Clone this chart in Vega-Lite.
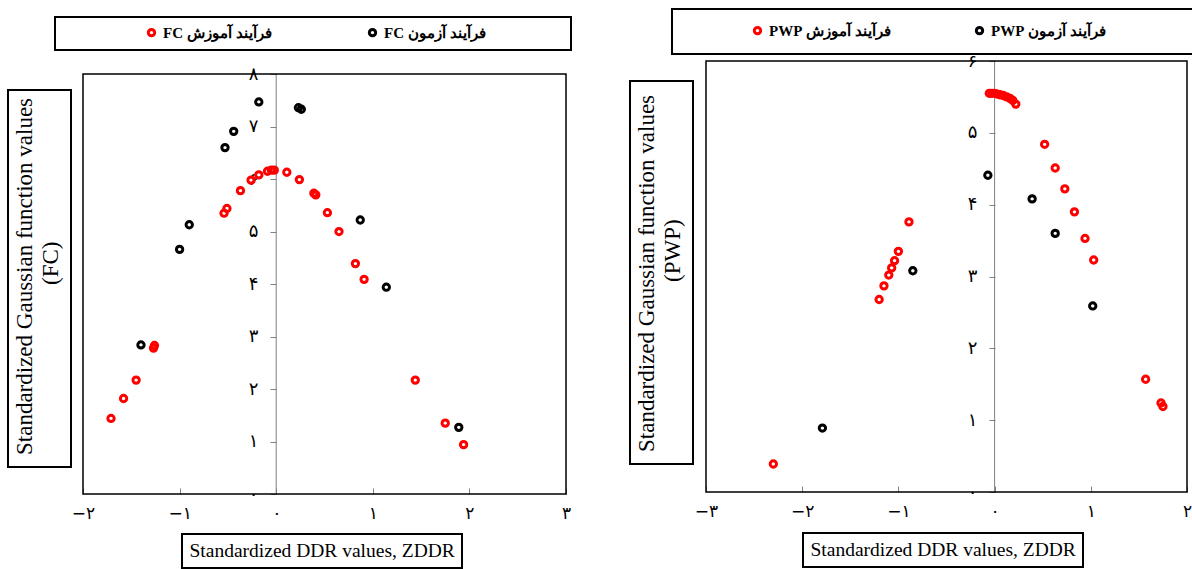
{
  "$schema": "https://vega.github.io/schema/vega-lite/v6.json",
  "padding": {"left": 7, "top": 8, "right": 0, "bottom": 0},
  "background": "white",
  "config": {"view": {"stroke": null}, "font": "Liberation Serif", "legend": {"strokeWidth": 2}},
  "spacing": 57,
  "datasets": {
    "fc": [
      {"z": -1.71, "g": 1.44, "series": "فرآیند آموزش FC"},
      {"z": -1.58, "g": 1.82, "series": "فرآیند آموزش FC"},
      {"z": -1.45, "g": 2.17, "series": "فرآیند آموزش FC"},
      {"z": -1.27, "g": 2.78, "series": "فرآیند آموزش FC"},
      {"z": -1.26, "g": 2.83, "series": "فرآیند آموزش FC"},
      {"z": -0.54, "g": 5.35, "series": "فرآیند آموزش FC"},
      {"z": -0.51, "g": 5.44, "series": "فرآیند آموزش FC"},
      {"z": -0.37, "g": 5.78, "series": "فرآیند آموزش FC"},
      {"z": -0.26, "g": 5.98, "series": "فرآیند آموزش FC"},
      {"z": -0.18, "g": 6.08, "series": "فرآیند آموزش FC"},
      {"z": -0.09, "g": 6.15, "series": "فرآیند آموزش FC"},
      {"z": -0.05, "g": 6.17, "series": "فرآیند آموزش FC"},
      {"z": -0.02, "g": 6.17, "series": "فرآیند آموزش FC"},
      {"z": 0.11, "g": 6.13, "series": "فرآیند آموزش FC"},
      {"z": 0.24, "g": 5.99, "series": "فرآیند آموزش FC"},
      {"z": 0.39, "g": 5.73, "series": "فرآیند آموزش FC"},
      {"z": 0.41, "g": 5.70, "series": "فرآیند آموزش FC"},
      {"z": 0.53, "g": 5.36, "series": "فرآیند آموزش FC"},
      {"z": 0.65, "g": 5.00, "series": "فرآیند آموزش FC"},
      {"z": 0.82, "g": 4.39, "series": "فرآیند آموزش FC"},
      {"z": 0.91, "g": 4.09, "series": "فرآیند آموزش FC"},
      {"z": 1.44, "g": 2.17, "series": "فرآیند آموزش FC"},
      {"z": 1.75, "g": 1.35, "series": "فرآیند آموزش FC"},
      {"z": 1.94, "g": 0.94, "series": "فرآیند آموزش FC"},
      {"z": -1.40, "g": 2.84, "series": "فرآیند آزمون FC"},
      {"z": -1.00, "g": 4.66, "series": "فرآیند آزمون FC"},
      {"z": -0.90, "g": 5.13, "series": "فرآیند آزمون FC"},
      {"z": -0.53, "g": 6.60, "series": "فرآیند آزمون FC"},
      {"z": -0.44, "g": 6.91, "series": "فرآیند آزمون FC"},
      {"z": -0.18, "g": 7.47, "series": "فرآیند آزمون FC"},
      {"z": 0.23, "g": 7.36, "series": "فرآیند آزمون FC"},
      {"z": 0.26, "g": 7.33, "series": "فرآیند آزمون FC"},
      {"z": 0.87, "g": 5.22, "series": "فرآیند آزمون FC"},
      {"z": 1.14, "g": 3.94, "series": "فرآیند آزمون FC"},
      {"z": 1.89, "g": 1.27, "series": "فرآیند آزمون FC"}
    ],
    "pwp": [
      {"z": -2.30, "g": 0.39, "series": "فرآیند آموزش PWP"},
      {"z": -1.20, "g": 2.68, "series": "فرآیند آموزش PWP"},
      {"z": -1.15, "g": 2.87, "series": "فرآیند آموزش PWP"},
      {"z": -1.10, "g": 3.02, "series": "فرآیند آموزش PWP"},
      {"z": -1.07, "g": 3.12, "series": "فرآیند آموزش PWP"},
      {"z": -1.04, "g": 3.22, "series": "فرآیند آموزش PWP"},
      {"z": -1.00, "g": 3.35, "series": "فرآیند آموزش PWP"},
      {"z": -0.89, "g": 3.76, "series": "فرآیند آموزش PWP"},
      {"z": -0.055, "g": 5.55, "series": "فرآیند آموزش PWP"},
      {"z": -0.028, "g": 5.55, "series": "فرآیند آموزش PWP"},
      {"z": 0.0, "g": 5.55, "series": "فرآیند آموزش PWP"},
      {"z": 0.028, "g": 5.54, "series": "فرآیند آموزش PWP"},
      {"z": 0.055, "g": 5.53, "series": "فرآیند آموزش PWP"},
      {"z": 0.09, "g": 5.52, "series": "فرآیند آموزش PWP"},
      {"z": 0.125, "g": 5.50, "series": "فرآیند آموزش PWP"},
      {"z": 0.16, "g": 5.48, "series": "فرآیند آموزش PWP"},
      {"z": 0.19, "g": 5.45, "series": "فرآیند آموزش PWP"},
      {"z": 0.22, "g": 5.40, "series": "فرآیند آموزش PWP"},
      {"z": 0.52, "g": 4.84, "series": "فرآیند آموزش PWP"},
      {"z": 0.63, "g": 4.51, "series": "فرآیند آموزش PWP"},
      {"z": 0.73, "g": 4.22, "series": "فرآیند آموزش PWP"},
      {"z": 0.83, "g": 3.90, "series": "فرآیند آموزش PWP"},
      {"z": 0.94, "g": 3.53, "series": "فرآیند آموزش PWP"},
      {"z": 1.03, "g": 3.23, "series": "فرآیند آموزش PWP"},
      {"z": 1.57, "g": 1.57, "series": "فرآیند آموزش PWP"},
      {"z": 1.73, "g": 1.24, "series": "فرآیند آموزش PWP"},
      {"z": 1.75, "g": 1.19, "series": "فرآیند آموزش PWP"},
      {"z": -1.79, "g": 0.89, "series": "فرآیند آزمون PWP"},
      {"z": -0.85, "g": 3.08, "series": "فرآیند آزمون PWP"},
      {"z": -0.07, "g": 4.41, "series": "فرآیند آزمون PWP"},
      {"z": 0.39, "g": 4.08, "series": "فرآیند آزمون PWP"},
      {"z": 0.63, "g": 3.60, "series": "فرآیند آزمون PWP"},
      {"z": 1.02, "g": 2.59, "series": "فرآیند آزمون PWP"}
    ]
  },
  "hconcat": [
    {
      "width": 483,
      "height": 433,
      "data": {"name": "fc"},
      "layer": [
        {
          "data": {"values": [{"frame": "box"}]},
          "mark": {"type": "rule", "color": "#808080", "strokeWidth": 1},
          "encoding": {
            "x": {"datum": 0, "type": "quantitative", "scale": {"domain": [-2, 3], "nice": false, "zero": false},
              "axis": {"values": [-2, -1, 0, 1, 2, 3], "labelExpr": "(datum.value < 0 ? '\u2212' : '') + ['\u06f0','\u06f1','\u06f2','\u06f3','\u06f4','\u06f5','\u06f6','\u06f7','\u06f8','\u06f9'][abs(datum.value)]", "domain": false, "grid": false, "tickSize": -6, "tickColor": "#808080", "labelPadding": 17, "labelFont": "DejaVu Sans", "labelFontSize": 17, "labelColor": "black", "labelFlush": false, "labelOverlap": false, "title": null}},
            "y": {"datum": 0, "type": "quantitative", "scale": {"domain": [0, 8.25], "nice": false, "zero": false},
              "axis": {"values": [0, 1, 2, 3, 4, 5, 6, 7, 8], "labelExpr": "['\u06f0','\u06f1','\u06f2','\u06f3','\u06f4','\u06f5','\u06f6','\u06f7','\u06f8','\u06f9'][abs(datum.value)]", "domain": false, "grid": false, "tickSize": 6, "tickColor": "#808080", "offset": -193, "labelPadding": 12, "labelFont": "DejaVu Sans", "labelFontSize": 18, "labelColor": "black", "labelFlush": false, "labelOverlap": false, "title": null}},
            "y2": {"datum": 8}
          }
        },
        {
          "data": {"values": [{"frame": "box"}]},
          "mark": {"type": "rect", "fill": null, "stroke": "black", "strokeWidth": 1.5},
          "encoding": {
            "x": {"datum": -2, "type": "quantitative", "scale": {"domain": [-2, 3], "nice": false, "zero": false}},
            "x2": {"datum": 3},
            "y": {"datum": 0, "type": "quantitative", "scale": {"domain": [0, 8.25], "nice": false, "zero": false}},
            "y2": {"datum": 8}
          }
        },
        {
          "mark": {"type": "point", "filled": false, "size": 40, "strokeWidth": 3, "opacity": 1},
          "encoding": {
            "x": {"field": "z", "type": "quantitative", "scale": {"domain": [-2, 3], "nice": false, "zero": false}},
            "y": {"field": "g", "type": "quantitative", "scale": {"domain": [0, 8.25], "nice": false, "zero": false}},
            "color": {"field": "series", "type": "nominal",
              "scale": {"domain": ["فرآیند آموزش FC", "فرآیند آزمون FC"], "range": ["#ff0000", "#000000"]},
              "legend": {"orient": "none", "legendX": -28, "legendY": -44, "direction": "horizontal",
                "title": "\u00a0", "titleOrient": "left", "titleFontSize": 1, "titlePadding": 81,
                "strokeColor": "black", "padding": 8, "symbolType": "circle", "symbolSize": 40, "symbolStrokeWidth": 3,
                "labelFont": "Liberation Serif", "labelFontWeight": "bold", "labelFontSize": 15, "labelColor": "black", "labelLimit": 0, "labelOffset": 4, "columnPadding": 14,
                "labelExpr": "'\u202b' + datum.label + '\u202c\u2800\u2800\u2800\u2800\u2800\u2800\u2800'"}},
            "shape": {"datum": "Standardized DDR values, ZDDR", "type": "nominal", "scale": {"range": ["circle"]},
              "legend": {"orient": "none", "legendX": 99, "legendY": 473, "title": null, "symbolSize": 0, "symbolOpacity": 0, "symbolStrokeWidth": 0, "labelOffset": -19,
                "labelFont": "Liberation Serif", "labelFontSize": 19.5, "labelColor": "black", "labelLimit": 0, "strokeColor": "black", "padding": 7}},
            "fill": {"datum": 1, "type": "quantitative", "scale": {"domain": [0, 1], "range": ["rgba(255,255,255,0)", "rgba(255,255,255,0)"]},
              "legend": {"orient": "none", "legendX": -75, "legendY": 29, "direction": "vertical", "type": "gradient",
                "title": ["Standardized Gaussian function values", "\u2800\u2800\u2800\u2800\u2800\u2800\u2800\u2800\u2800\u2800(FC)"], "titleOrient": "left", "titleAnchor": "start", "titleAlign": "left", "titleLimit": 600,
                "titleFont": "Liberation Serif", "titleFontSize": 23, "titleFontWeight": "normal", "titleColor": "black", "titlePadding": 0, "titleLineHeight": 26,
                "gradientLength": 365, "gradientThickness": 1, "gradientStrokeWidth": 0, "labelFontSize": 1, "labelExpr": "''", "labelOffset": 0,
                "strokeColor": "black", "padding": 6}}
          }
        }
      ]
    },
    {
      "width": 481,
      "height": 431,
      "data": {"name": "pwp"},
      "layer": [
        {
          "data": {"values": [{"frame": "box"}]},
          "mark": {"type": "rule", "color": "#808080", "strokeWidth": 1},
          "encoding": {
            "x": {"datum": 0, "type": "quantitative", "scale": {"domain": [-3, 2], "nice": false, "zero": false},
              "axis": {"values": [-3, -2, -1, 0, 1, 2], "labelExpr": "(datum.value < 0 ? '\u2212' : '') + ['\u06f0','\u06f1','\u06f2','\u06f3','\u06f4','\u06f5','\u06f6','\u06f7','\u06f8','\u06f9'][abs(datum.value)]", "domain": false, "grid": false, "tickSize": -6, "tickColor": "#808080", "labelPadding": 17, "labelFont": "DejaVu Sans", "labelFontSize": 17, "labelColor": "black", "labelFlush": false, "labelOverlap": false, "title": null}},
            "y": {"datum": 0, "type": "quantitative", "scale": {"domain": [0, 6], "nice": false, "zero": false},
              "axis": {"values": [0, 1, 2, 3, 4, 5, 6], "labelExpr": "['\u06f0','\u06f1','\u06f2','\u06f3','\u06f4','\u06f5','\u06f6','\u06f7','\u06f8','\u06f9'][abs(datum.value)]", "domain": false, "grid": false, "tickSize": 6, "tickColor": "#808080", "offset": -289, "labelPadding": 12, "labelFont": "DejaVu Sans", "labelFontSize": 18, "labelColor": "black", "labelFlush": false, "labelOverlap": false, "title": null}},
            "y2": {"datum": 6}
          }
        },
        {
          "data": {"values": [{"frame": "box"}]},
          "mark": {"type": "rect", "fill": null, "stroke": "black", "strokeWidth": 1.5},
          "encoding": {
            "x": {"datum": -3, "type": "quantitative", "scale": {"domain": [-3, 2], "nice": false, "zero": false}},
            "x2": {"datum": 2},
            "y": {"datum": 0, "type": "quantitative", "scale": {"domain": [0, 6], "nice": false, "zero": false}},
            "y2": {"datum": 6}
          }
        },
        {
          "mark": {"type": "point", "filled": false, "size": 40, "strokeWidth": 3, "opacity": 1},
          "encoding": {
            "x": {"field": "z", "type": "quantitative", "scale": {"domain": [-3, 2], "nice": false, "zero": false}},
            "y": {"field": "g", "type": "quantitative", "scale": {"domain": [0, 6], "nice": false, "zero": false}},
            "color": {"field": "series", "type": "nominal",
              "scale": {"domain": ["فرآیند آموزش PWP", "فرآیند آزمون PWP"], "range": ["#ff0000", "#000000"]},
              "legend": {"orient": "none", "legendX": -34, "legendY": -52, "direction": "horizontal",
                "title": "\u00a0", "titleOrient": "left", "titleFontSize": 1, "titlePadding": 64,
                "strokeColor": "black", "padding": 14, "symbolType": "circle", "symbolSize": 40, "symbolStrokeWidth": 3,
                "labelFont": "Liberation Serif", "labelFontWeight": "bold", "labelFontSize": 15, "labelColor": "black", "labelLimit": 0, "labelOffset": 4, "columnPadding": 2,
                "labelExpr": "'\u202b' + datum.label + '\u202c\u2800\u2800\u2800\u2800\u2800\u2800\u2800'"}},
            "shape": {"datum": "Standardized DDR values, ZDDR", "type": "nominal", "scale": {"range": ["circle"]},
              "legend": {"orient": "none", "legendX": 97, "legendY": 472, "title": null, "symbolSize": 0, "symbolOpacity": 0, "symbolStrokeWidth": 0, "labelOffset": -19,
                "labelFont": "Liberation Serif", "labelFontSize": 19.5, "labelColor": "black", "labelLimit": 0, "strokeColor": "black", "padding": 7}},
            "fill": {"datum": 1, "type": "quantitative", "scale": {"domain": [0, 1], "range": ["rgba(255,255,255,0)", "rgba(255,255,255,0)"]},
              "legend": {"orient": "none", "legendX": -76, "legendY": 20, "direction": "vertical", "type": "gradient",
                "title": ["Standardized Gaussian function values", "\u2800\u2800\u2800\u2800\u2800\u2800\u2800\u2800\u2800\u2800(PWP)"], "titleOrient": "left", "titleAnchor": "start", "titleAlign": "left", "titleLimit": 600,
                "titleFont": "Liberation Serif", "titleFontSize": 23, "titleFontWeight": "normal", "titleColor": "black", "titlePadding": 0, "titleLineHeight": 26,
                "gradientLength": 371, "gradientThickness": 1, "gradientStrokeWidth": 0, "labelFontSize": 1, "labelExpr": "''", "labelOffset": 0,
                "strokeColor": "black", "padding": 6}}
          }
        }
      ]
    }
  ],
  "resolve": {
    "scale": {"x": "independent", "y": "independent", "color": "independent", "shape": "independent", "fill": "independent"},
    "legend": {"color": "independent", "shape": "independent", "fill": "independent"}
  }
}
